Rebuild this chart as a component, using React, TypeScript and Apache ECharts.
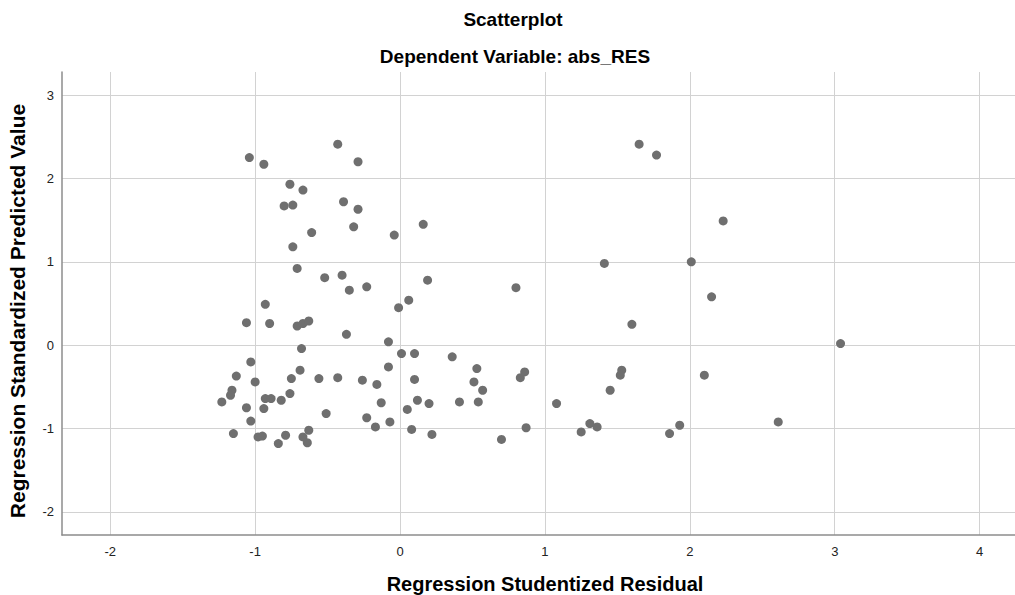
import React, { useEffect, useRef } from "react";
import * as echarts from "echarts";

const chartTitle = "Scatterplot";
const chartSubtitle = "Dependent Variable: abs_RES";
const xAxisName = "Regression Studentized Residual";
const yAxisName = "Regression Standardized Predicted Value";

// Regression Studentized Residual (x)
const studentizedResidual = [
  1.65, 1.77, 2.23, 1.41, 2.01, 0.8, 2.15, 1.6, 3.04, 0.36,
  0.53, 0.51, 0.57, 0.41, 0.54, 0.86, 0.83, 0.87, 0.7, 1.08,
  1.25, 1.31, 1.36, 1.53, 1.52, 1.45, 1.86, 1.93, 2.1, 2.61,
  -1.04, -0.94, -0.43, -0.29, -0.76, -0.67, -0.8, -0.74, -0.39, -0.29,
  0.16, -0.32, -0.61, -0.04, -0.74, -0.71, -0.52, -0.4, 0.19, -0.35,
  -0.23, -0.93, 0.06, -0.01, -1.06, -0.9, -0.71, -0.67, -0.63, -0.37,
  -0.08, -0.68,
  0.01, 0.1, -1.03, -1.13, -1.0, -0.69, -0.75, -0.56, -0.43, -0.26,
  -0.16, -0.08, 0.1, -1.16, -1.17, -1.23, -0.76, -0.93, -0.89, -0.82,
  -1.06, -0.94, -1.03, -0.13, 0.12, 0.2, 0.05, -0.51, -0.23, -0.17,
  -0.07, -1.15, -0.98, -0.95, -0.84, -0.79, -0.67, -0.63, -0.64, 0.08,
  0.22,
];

// Regression Standardized Predicted Value (y)
const standardizedPredicted = [
  2.41, 2.28, 1.49, 0.98, 1.0, 0.69, 0.58, 0.25, 0.02, -0.14,
  -0.28, -0.44, -0.54, -0.68, -0.68, -0.32, -0.39, -0.99, -1.13, -0.7,
  -1.04, -0.94, -0.98, -0.3, -0.36, -0.54, -1.06, -0.96, -0.36, -0.92,
  2.25, 2.17, 2.41, 2.2, 1.93, 1.86, 1.67, 1.68, 1.72, 1.63,
  1.45, 1.42, 1.35, 1.32, 1.18, 0.92, 0.81, 0.84, 0.78, 0.66,
  0.7, 0.49, 0.54, 0.45, 0.27, 0.26, 0.23, 0.26, 0.29, 0.13,
  0.04, -0.04,
  -0.1, -0.1, -0.2, -0.37, -0.44, -0.3, -0.4, -0.4, -0.39, -0.42,
  -0.47, -0.26, -0.41, -0.54, -0.6, -0.68, -0.58, -0.64, -0.64, -0.66,
  -0.75, -0.76, -0.91, -0.69, -0.66, -0.7, -0.77, -0.82, -0.87, -0.98,
  -0.92, -1.06, -1.1, -1.09, -1.18, -1.08, -1.1, -1.02, -1.17, -1.01,
  -1.07,
];

const FONT = "'Liberation Sans', Arial, sans-serif";

export default function App() {
  const ref = useRef<HTMLDivElement>(null);

  useEffect(() => {
    if (!ref.current) return;
    const chart = echarts.init(ref.current, null, { renderer: "svg" });
    const points = studentizedResidual.map((x, i) => [x, standardizedPredicted[i]]);
    const intLabel = (v: number) => (Math.abs(v - Math.round(v)) < 1e-6 ? String(Math.round(v)) : "");

    chart.setOption({
      animation: false,
      backgroundColor: "#ffffff",
      textStyle: { fontFamily: FONT },
      grid: { left: 62, top: 72, right: 0, bottom: 60, containLabel: false },
      xAxis: {
        type: "value",
        min: -2.333,
        max: 4.244,
        minInterval: 1,
        maxInterval: 1,
        axisLine: { show: true, onZero: false, lineStyle: { color: "#8c8c8c", width: 1.5 } },
        axisTick: { show: false },
        axisLabel: {
          formatter: intLabel,
          color: "#222222",
          fontSize: 13,
          fontFamily: FONT,
          margin: 10,
          showMinLabel: false,
          showMaxLabel: false,
        },
        splitLine: {
          show: true,
          showMinLine: false,
          showMaxLine: false,
          lineStyle: { color: "#d2d2d2", width: 1 },
        },
      },
      yAxis: {
        type: "value",
        min: -2.276,
        max: 3.276,
        minInterval: 1,
        maxInterval: 1,
        axisLine: { show: true, onZero: false, lineStyle: { color: "#8c8c8c", width: 1.5 } },
        axisTick: { show: false },
        axisLabel: {
          formatter: intLabel,
          color: "#222222",
          fontSize: 13,
          fontFamily: FONT,
          margin: 8,
          showMinLabel: false,
          showMaxLabel: false,
        },
        splitLine: {
          show: true,
          showMinLine: false,
          showMaxLine: false,
          lineStyle: { color: "#d2d2d2", width: 1 },
        },
      },
      graphic: [
        {
          type: "text",
          x: 513,
          y: 19,
          style: {
            text: chartTitle,
            fontFamily: FONT,
            fontSize: 19,
            fontWeight: "bold",
            fill: "#000000",
            align: "center",
            verticalAlign: "middle",
            textAlign: "center",
            textVerticalAlign: "middle",
          },
        },
        {
          type: "text",
          x: 515,
          y: 56,
          style: {
            text: chartSubtitle,
            fontFamily: FONT,
            fontSize: 19,
            fontWeight: "bold",
            fill: "#000000",
            align: "center",
            verticalAlign: "middle",
            textAlign: "center",
            textVerticalAlign: "middle",
          },
        },
        {
          type: "text",
          x: 545,
          y: 584,
          style: {
            text: xAxisName,
            fontFamily: FONT,
            fontSize: 20,
            fontWeight: "bold",
            fill: "#000000",
            align: "center",
            verticalAlign: "middle",
            textAlign: "center",
            textVerticalAlign: "middle",
          },
        },
        {
          type: "text",
          x: 17,
          y: 311,
          rotation: Math.PI / 2,
          style: {
            text: yAxisName,
            fontFamily: FONT,
            fontSize: 21,
            fontWeight: "bold",
            fill: "#000000",
            align: "center",
            verticalAlign: "middle",
            textAlign: "center",
            textVerticalAlign: "middle",
          },
        },
      ],
      series: [
        {
          type: "scatter",
          data: points,
          symbol: "circle",
          symbolSize: 9,
          itemStyle: { color: "#6f6f6f", opacity: 1 },
          silent: true,
        },
      ],
    });

    return () => chart.dispose();
  }, []);

  return (
    <div
      ref={ref}
      style={{ position: "absolute", left: 0, top: 0, width: 1015, height: 595 }}
    />
  );
}
